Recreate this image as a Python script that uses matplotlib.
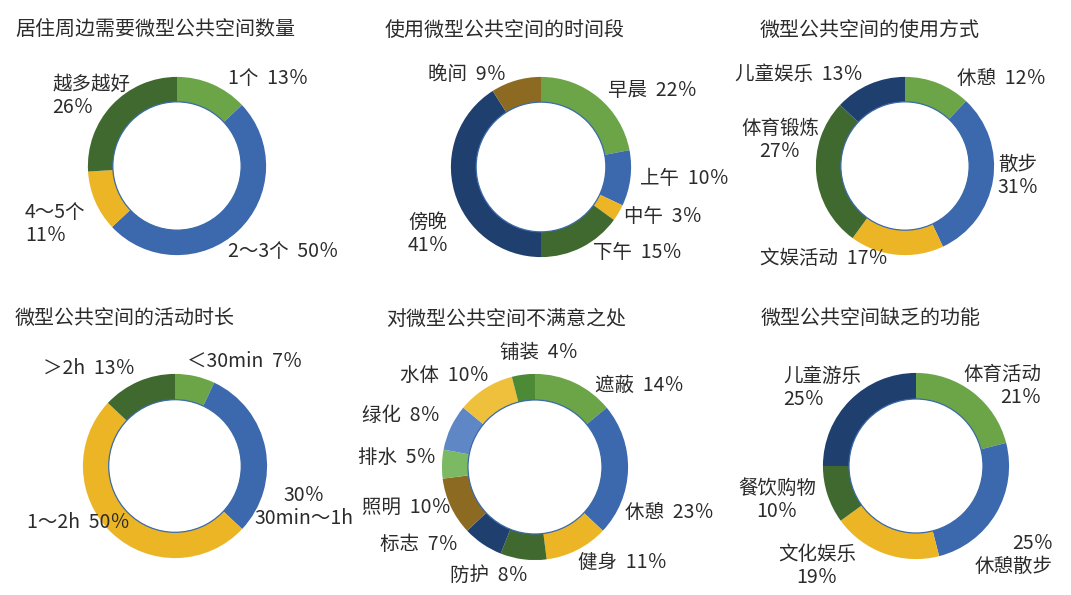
import matplotlib
matplotlib.use("Agg")
import matplotlib.pyplot as plt
from matplotlib.patches import Circle

plt.rcParams['font.family'] = ['Noto Sans CJK SC', 'DejaVu Sans']

W, H = 1071, 595

# ---------------- data ----------------
titles = ["居住周边需要微型公共空间数量", "使用微型公共空间的时间段", "微型公共空间的使用方式",
          "微型公共空间的活动时长", "对微型公共空间不满意之处", "微型公共空间缺乏的功能"]

cats1 = ["1个", "2～3个", "4～5个", "越多越好"]
vals1 = [13, 50, 11, 26]

cats2 = ["早晨", "上午", "中午", "下午", "傍晚", "晚间"]
vals2 = [22, 10, 3, 15, 41, 9]

cats3 = ["休憩", "散步", "文娱活动", "体育锻炼", "儿童娱乐"]
vals3 = [12, 31, 17, 27, 13]

cats4 = ["＜30min", "30min～1h", "1～2h", "＞2h"]
vals4 = [7, 30, 50, 13]

cats5 = ["遮蔽", "休憩", "健身", "防护", "标志", "照明", "排水", "绿化", "水体", "铺装"]
vals5 = [14, 23, 11, 8, 7, 10, 5, 8, 10, 4]

cats6 = ["体育活动", "休憩散步", "文化娱乐", "餐饮购物", "儿童游乐"]
vals6 = [21, 25, 19, 10, 25]

# ---------------- styles / layout ----------------
LG, BL, YE, DG, NV, BR = "#6BA547", "#3C68AD", "#EBB526", "#3F692E", "#1F3F6E", "#8D6A21"
LG2, LB, YE2, MG = "#7CB963", "#5F87C6", "#EEC03C", "#4C8A36"
colors = [
    [LG, BL, YE, DG],
    [LG, BL, YE, DG, NV, BR],
    [LG, BL, YE, DG, NV],
    [LG, BL, YE, DG],
    [LG, BL, YE, DG, NV, BR, LG2, LB, YE2, MG],
    [LG, BL, YE, DG, NV],
]
# (cx, cy, R) in pixels, y from top
geoms = [(177, 166, 90), (541, 167, 91), (905, 166, 90),
         (175, 466, 93), (535, 467, 94), (916, 466, 94)]
title_pos = [(15, 30), (385, 30), (760, 30), (15, 318), (386, 319), (761, 318)]

# label layouts: (x, y, ha, kind)
lab_layout = [
    [(228, 78, 'left', 'inline'), (228, 251, 'left', 'inline'),
     (25, 224, 'left', 'stack'), (52, 96, 'left', 'stack')],
    [(608, 91, 'left', 'inline'), (640, 178, 'left', 'inline'), (624, 217, 'left', 'inline'),
     (593, 253, 'left', 'inline'), (408, 234, 'left', 'stack'), (428, 74, 'left', 'inline')],
    [(957, 78, 'left', 'inline'), (1018, 176, 'center', 'stack'), (760, 258, 'left', 'inline'),
     (780, 140, 'center', 'stack'), (735, 74, 'left', 'inline')],
    [(187, 361, 'left', 'inline'), (304, 507, 'center', 'rstack'),
     (27, 522, 'left', 'inline'), (43, 368, 'left', 'inline')],
    [(595, 385, 'left', 'inline'), (625, 512, 'left', 'inline'), (578, 562, 'left', 'inline'),
     (450, 575, 'left', 'inline'), (380, 545, 'left', 'inline'), (362, 507, 'left', 'inline'),
     (358, 457, 'left', 'inline'), (362, 415, 'left', 'inline'), (400, 375, 'left', 'inline'),
     (500, 353, 'left', 'inline')],
    [(1041, 386, 'right', 'stack'), (1053, 555, 'right', 'rstack'), (817, 566, 'center', 'stack'),
     (777, 500, 'center', 'stack'), (783, 388, 'left', 'stack')],
]

all_cats = [cats1, cats2, cats3, cats4, cats5, cats6]
all_vals = [vals1, vals2, vals3, vals4, vals5, vals6]

TXT = "#2B2B2B"
fig = plt.figure(figsize=(W / 100, H / 100), dpi=100)
fig.patch.set_facecolor("white")


def fpos(x, y):
    return x / W, 1 - y / H


for i in range(6):
    cx, cy, R = geoms[i]
    ax = fig.add_axes([(cx - R) / W, 1 - (cy + R) / H, 2 * R / W, 2 * R / H])
    ax.pie(all_vals[i], colors=colors[i], startangle=90, counterclock=False, radius=1,
           wedgeprops=dict(width=0.28, edgecolor='none', linewidth=0))
    ax.add_patch(Circle((0, 0), 0.72, fill=False, edgecolor="#3A6AA8", linewidth=0.9))
    ax.set_xlim(-1.01, 1.01)
    ax.set_ylim(-1.01, 1.01)
    ax.set_aspect('equal')
    ax.axis('off')

    tx, ty = title_pos[i]
    fig.text(*fpos(tx, ty), titles[i], fontsize=14.4, color=TXT, ha='left', va='center')

    for c, v, (lx, ly, ha, kind) in zip(all_cats[i], all_vals[i], lab_layout[i]):
        pct = f"{v}％"
        if kind == 'inline':
            s = f"{c}  {pct}"
        elif kind == 'stack':
            s = f"{c}\n{pct}"
        else:
            s = f"{pct}\n{c}"
        fig.text(*fpos(lx, ly), s, fontsize=14, color=TXT, ha=ha, va='center',
                 multialignment=ha, linespacing=1.1)

fig.savefig("out.png", dpi=100, facecolor="white")
